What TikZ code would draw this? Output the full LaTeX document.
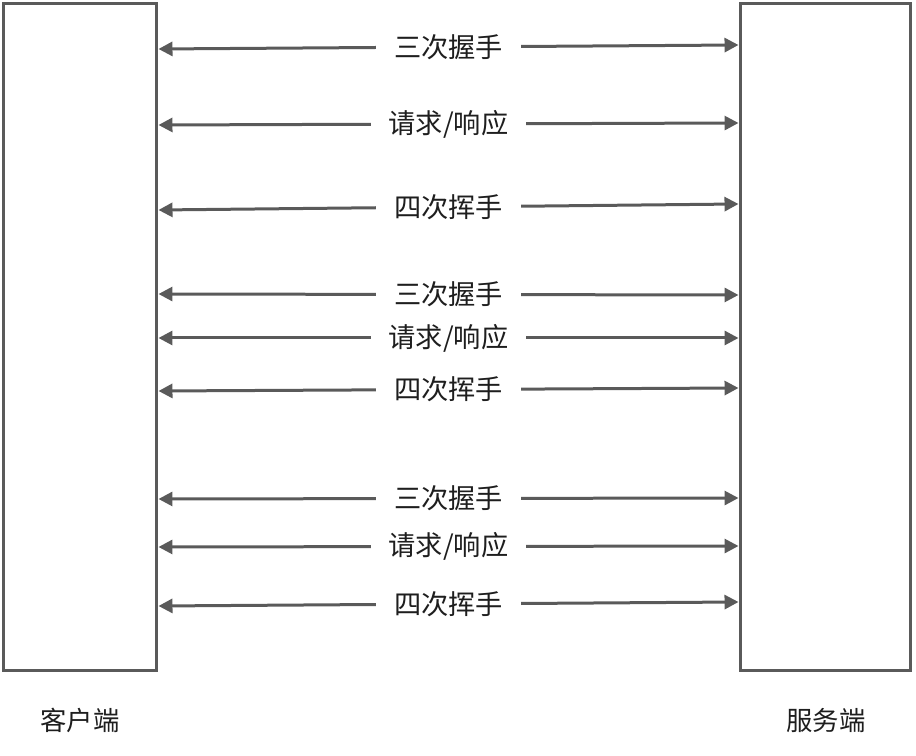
\documentclass[tikz,border=0pt]{standalone}
\usepackage{fontspec}
\setmainfont{Noto Sans CJK SC}
\usetikzlibrary{arrows.meta}
\definecolor{linegray}{HTML}{5A5A5A}
\definecolor{textgray}{HTML}{1E1E1E}

\begin{document}
\begin{tikzpicture}[
    x=0.02cm, y=-0.02cm,
    panel/.style={draw=linegray, line width=0.06cm, minimum height=13.36cm, inner sep=0pt},
    side/.style={font=\fontsize{15}{18}\selectfont, text=textgray},
    msg/.style={{Triangle[length=0.28cm,width=0.28cm]}-{Triangle[length=0.28cm,width=0.28cm]}, line width=0.06cm, draw=linegray},
    msglabel/.style={fill=white, inner xsep=0.36cm, inner ysep=2pt, font=\fontsize{15.5}{18}\selectfont, text=textgray}
]
    \useasboundingbox (0,0) rectangle (916,756);

    % Endpoints
    \node[panel, minimum width=3.08cm] (client) at (80,337) {};
    \node[panel, minimum width=3.42cm] (server) at (825.5,337) {};
    \node[side] (clientlbl) at (80,720) {客户端};
    \node[side] (serverlbl) at (826,720) {服务端};

    % Messages
    \foreach \ly/\ry/\txt in {49/45/三次握手, 125/123/{请求/响应}, 210/204/四次挥手,
                              294/295/三次握手, 338/338/{请求/响应}, 391/388/四次挥手,
                              499/498/三次握手, 547/546/{请求/响应}, 606/602/四次挥手}
        \draw[msg] (client.east |- 0,\ly) -- node[msglabel] {\txt} (server.west |- 0,\ry);

\end{tikzpicture}
\end{document}
